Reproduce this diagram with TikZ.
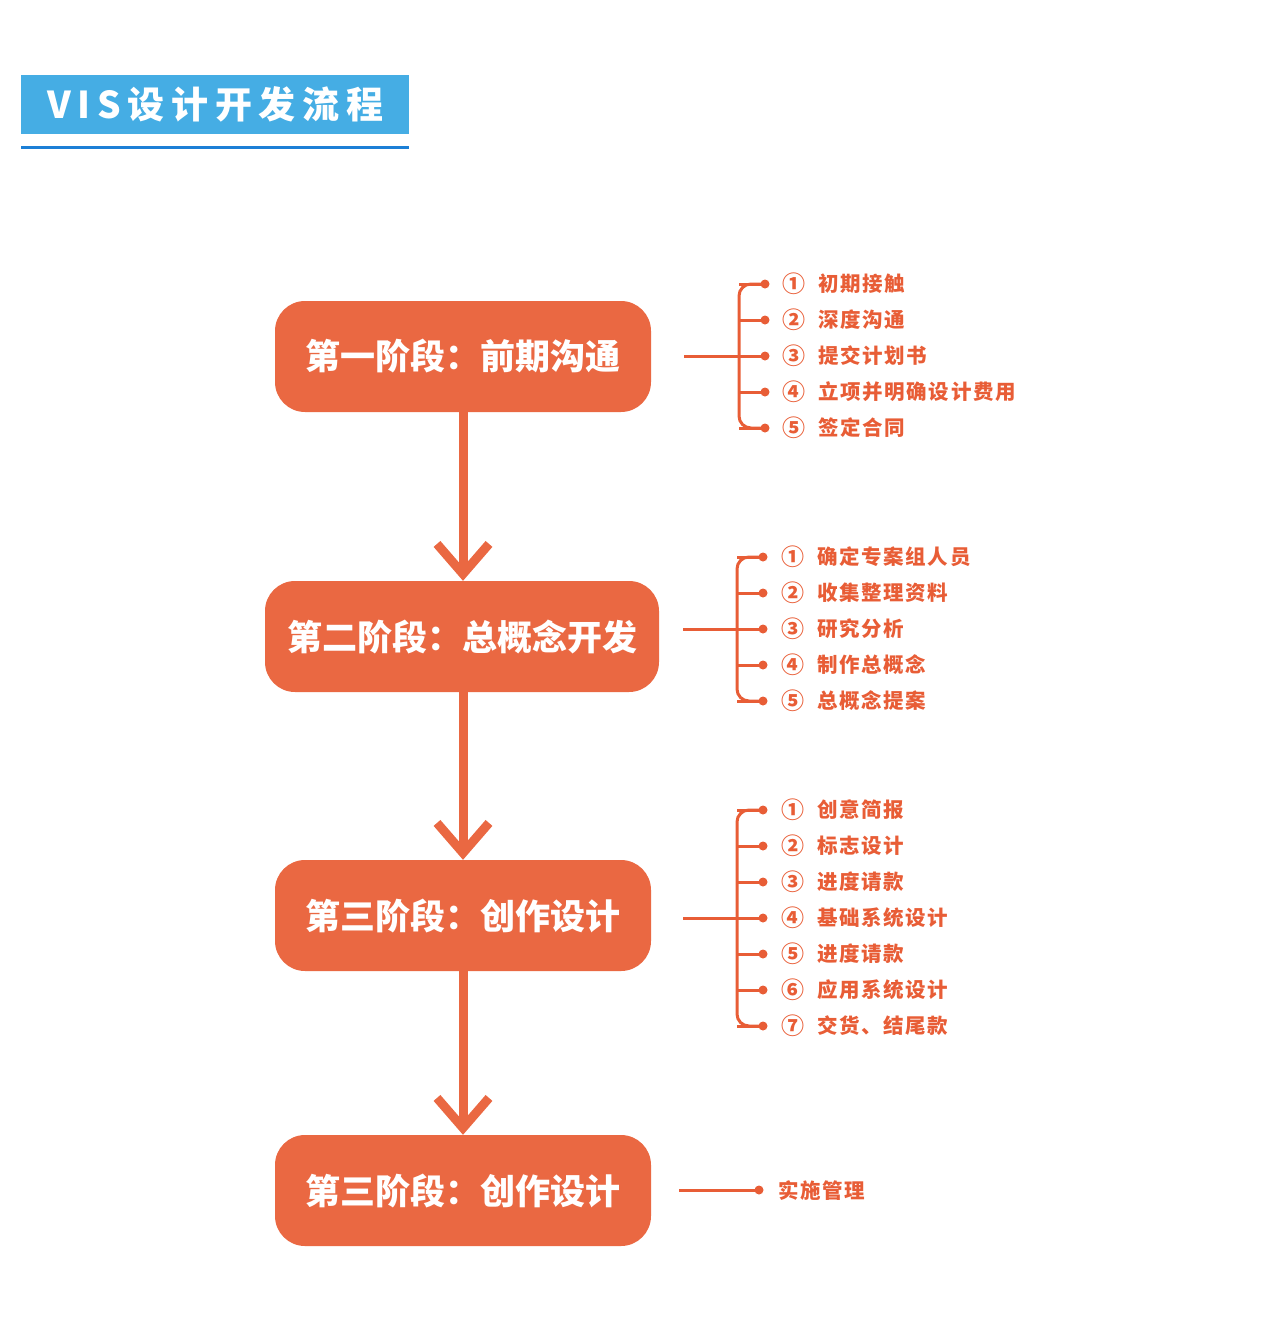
\documentclass[tikz,border=0pt]{standalone}
\usepackage{fontspec}
\newfontfamily\cjk{Noto Sans CJK SC}
\usetikzlibrary{arrows.meta}
\definecolor{boxor}{HTML}{EA6842}
\definecolor{lineor}{HTML}{E85D36}
\definecolor{hblue}{HTML}{45ADE4}
\definecolor{ublue}{HTML}{1C7FD6}
\begin{document}
\begin{tikzpicture}[x=1pt,y=-1pt,
  stage/.style={rounded corners=30pt, fill=boxor, text=white, inner sep=0pt,
    font=\cjk\bfseries\fontsize{35}{35}\selectfont, minimum height=111pt},
  flow/.style={draw=boxor, line width=9pt, -{Straight Barb[length=30pt, width=52pt]}},
  br/.style={draw=lineor, line width=3pt},
  dot/.style={circle, fill=lineor, inner sep=0pt, minimum size=9pt},
  num/.style={anchor=west, inner sep=0pt, text=lineor, font=\cjk\bfseries\fontsize{23}{23}\selectfont},
  lab/.style={anchor=west, inner sep=0pt, text=lineor, font=\cjk\bfseries\fontsize{20.5}{21}\selectfont\addfontfeature{LetterSpace=8}}
]
\useasboundingbox (0,0) rectangle (1271,1339);

% header
\node[fill=hblue, anchor=north west, minimum width=388pt, minimum height=59pt, inner sep=0pt,
  text=white, font=\cjk\bfseries\fontsize{37}{37}\selectfont\addfontfeature{LetterSpace=18}]
  (title) at (21,75) {VIS设计开发流程};
\coordinate (ul1) at (21,147.5);
\coordinate (ul2) at (409,147.5);
\draw[ublue, line width=3pt] (ul1) -- (ul2);

% stages
\node[stage, minimum width=376pt] (b1) at (463,356.5) {第一阶段：前期沟通};
\node[stage, minimum width=394pt] (b2) at (462,636.5) {第二阶段：总概念开发};
\node[stage, minimum width=376pt] (b3) at (463,915.5) {第三阶段：创作设计};
\node[stage, minimum width=376pt] (b4) at (463,1190.5) {第三阶段：创作设计};

\draw[flow] (b1.south) -- (b1.south |- b2.north);
\draw[flow] (b1.south |- b2.south) -- (b3.north);
\draw[flow] (b3.south) -- (b4.north);

% group 1
\coordinate (h1) at (684,356);
\coordinate (k1) at (739,356);
\draw[br] (h1) -- (k1);
\draw[br, rounded corners=12pt] (765,284) -| (739,428) -- (765,428);
\foreach \y/\n/\t [count=\i] in {284/①/初期接触, 320/②/深度沟通, 356/③/提交计划书, 392/④/立项并明确设计费用, 428/⑤/签定合同}{
  \node[dot] (d1\i) at (765,\y) {};
  \draw[br] (739,\y) -- (d1\i.center);
  \node[num] (n1\i) at (782,\y) {\n};
  \node[lab] (l1\i) at (818,\y) {\t};
}

% group 2
\coordinate (h2) at (683,629);
\coordinate (k2) at (737,629);
\draw[br] (h2) -- (k2);
\draw[br, rounded corners=12pt] (763,557) -| (737,701) -- (763,701);
\foreach \y/\n/\t [count=\i] in {557/①/确定专案组人员, 593/②/收集整理资料, 629/③/研究分析, 665/④/制作总概念, 701/⑤/总概念提案}{
  \node[dot] (d2\i) at (763,\y) {};
  \draw[br] (737,\y) -- (d2\i.center);
  \node[num] (n2\i) at (781,\y) {\n};
  \node[lab] (l2\i) at (817,\y) {\t};
}

% group 3
\coordinate (h3) at (683,918);
\coordinate (k3) at (737,918);
\draw[br] (h3) -- (k3);
\draw[br, rounded corners=12pt] (763,810) -| (737,1026) -- (763,1026);
\foreach \y/\n/\t [count=\i] in {810/①/创意简报, 846/②/标志设计, 882/③/进度请款, 918/④/基础系统设计, 954/⑤/进度请款, 990/⑥/应用系统设计, 1026/⑦/交货、结尾款}{
  \node[dot] (d3\i) at (763,\y) {};
  \draw[br] (737,\y) -- (d3\i.center);
  \node[num] (n3\i) at (781,\y) {\n};
  \node[lab] (l3\i) at (817,\y) {\t};
}

% group 4
\coordinate (h4) at (679,1190);
\node[dot] (d41) at (759,1190) {};
\draw[br] (h4) -- (d41.center);
\node[lab] (l41) at (778,1191) {实施管理};
\end{tikzpicture}
\end{document}
